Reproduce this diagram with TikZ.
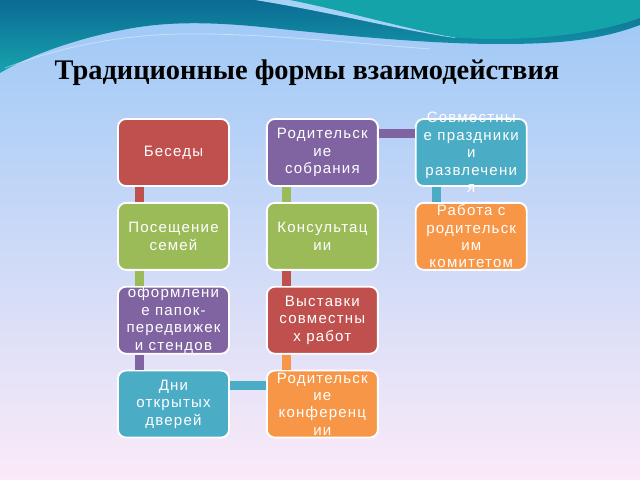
\documentclass[tikz,border=0pt]{standalone}
\usepackage{fontspec}
\newfontfamily\boxfont[LetterSpace=8]{Liberation Sans}
\newfontfamily\titlefont{Liberation Serif}
\usetikzlibrary{positioning,calc}

\definecolor{cRed}{HTML}{C0504D}
\definecolor{cGreen}{HTML}{9BBB59}
\definecolor{cPurple}{HTML}{8064A2}
\definecolor{cTeal}{HTML}{4BACC6}
\definecolor{cOrange}{HTML}{F79646}
\definecolor{bgTop}{HTML}{9CC8F6}
\definecolor{bgMid}{HTML}{C8D8F8}
\definecolor{bgBot}{HTML}{FBEAF8}
\definecolor{waveTop}{HTML}{0B6B94}
\definecolor{waveBot}{HTML}{17A3AE}
\definecolor{waveSea}{HTML}{14A3A8}
\definecolor{waveLight}{HTML}{A6D2F6}

\begin{document}
\begin{tikzpicture}[x=0.025cm,y=-0.025cm,
  node distance=3.75mm and 9mm,
  box/.style={draw=white,line width=1.3pt,rounded corners=2mm,minimum width=27.75mm,minimum height=16.75mm,fill=#1},
  txt/.style={text=white,align=center,font=\boxfont\fontsize{10.7}{12.4}\selectfont},
  bar/.style={line width=2.25mm,draw=#1},
  ttl/.style={font=\titlefont\bfseries\fontsize{20.2}{24}\selectfont}
]
\useasboundingbox (0,0) rectangle (640,480);
% background and waves
\shade[top color=bgTop,middle color=bgMid,bottom color=bgBot] (0,0) rectangle (640,480);
\shade[top color=waveTop,bottom color=waveBot] (0,0) -- (640,0) -- (640,25)
  .. controls (600,40) and (560,44) .. (500,44)
  .. controls (430,44) and (350,36) .. (290,30)
  .. controls (230,23) and (180,20) .. (133,28)
  .. controls (80,37) and (30,55) .. (0,73) -- cycle;
\fill[waveLight] (255,0) .. controls (330,12) and (400,30) .. (455,38) -- (455,0) -- cycle;
\fill[waveSea] (290,0) .. controls (350,12) and (410,30) .. (455,37.5)
  .. controls (520,42) and (590,36) .. (640,18) -- (640,0) -- cycle;
\draw[white,opacity=.4,line width=.6pt] (5,68) .. controls (60,47) and (120,35) .. (180,34)
  .. controls (260,33) and (340,42) .. (430,49);

\node[ttl] (ttl) at (307,73) {Традиционные формы взаимодействия};

% column 1
\node[box=cRed,label={[txt]center:Беседы}] (bes) at (173.5,152.5) {};
\node[box=cGreen,below=of bes,label={[txt]center:Посещение\\семей}] (pos) {};
\node[box=cPurple,below=of pos,label={[txt]center:оформлени\\е папок-\\передвижек\\и стендов}] (oform) {};
\node[box=cTeal,below=of oform,label={[txt]center:Дни\\открытых\\дверей}] (dni) {};
% column 2
\node[box=cPurple,right=of bes,label={[txt]center:Родительск\\ие\\собрания}] (rsob) {};
\node[box=cGreen,below=of rsob,label={[txt]center:Консультац\\ии}] (kons) {};
\node[box=cRed,below=of kons,label={[txt]center:Выставки\\совместны\\х работ}] (vyst) {};
\node[box=cOrange,below=of vyst,label={[txt]center:Родительск\\ие\\конференц\\ии}] (konf) {};
% column 3
\node[box=cTeal,right=of rsob,label={[txt]center:Совместны\\е праздники\\и\\развлечени\\я}] (sovm) {};
\node[box=cOrange,below=of sovm,label={[txt]center:Работа с\\родительск\\им\\комитетом}] (rab) {};

% connectors
\draw[bar=cRed] ($(bes.south west)+(22,0)$) -- ($(pos.north west)+(22,0)$);
\draw[bar=cGreen] ($(pos.south west)+(22,0)$) -- ($(oform.north west)+(22,0)$);
\draw[bar=cPurple] ($(oform.south west)+(22,0)$) -- ($(dni.north west)+(22,0)$);
\draw[bar=cTeal] ($(dni.north east)+(0,16)$) -- ($(konf.north west)+(0,16)$);
\draw[bar=cOrange] ($(konf.north west)+(20.5,0)$) -- ($(vyst.south west)+(20.5,0)$);
\draw[bar=cRed] ($(vyst.north west)+(20.5,0)$) -- ($(kons.south west)+(20.5,0)$);
\draw[bar=cGreen] ($(kons.north west)+(20.5,0)$) -- ($(rsob.south west)+(20.5,0)$);
\draw[bar=cPurple] ($(rsob.north east)+(0,15.5)$) -- ($(sovm.north west)+(0,15.5)$);
\draw[bar=cTeal] ($(sovm.south west)+(22,0)$) -- ($(rab.north west)+(22,0)$);
\end{tikzpicture}
\end{document}
